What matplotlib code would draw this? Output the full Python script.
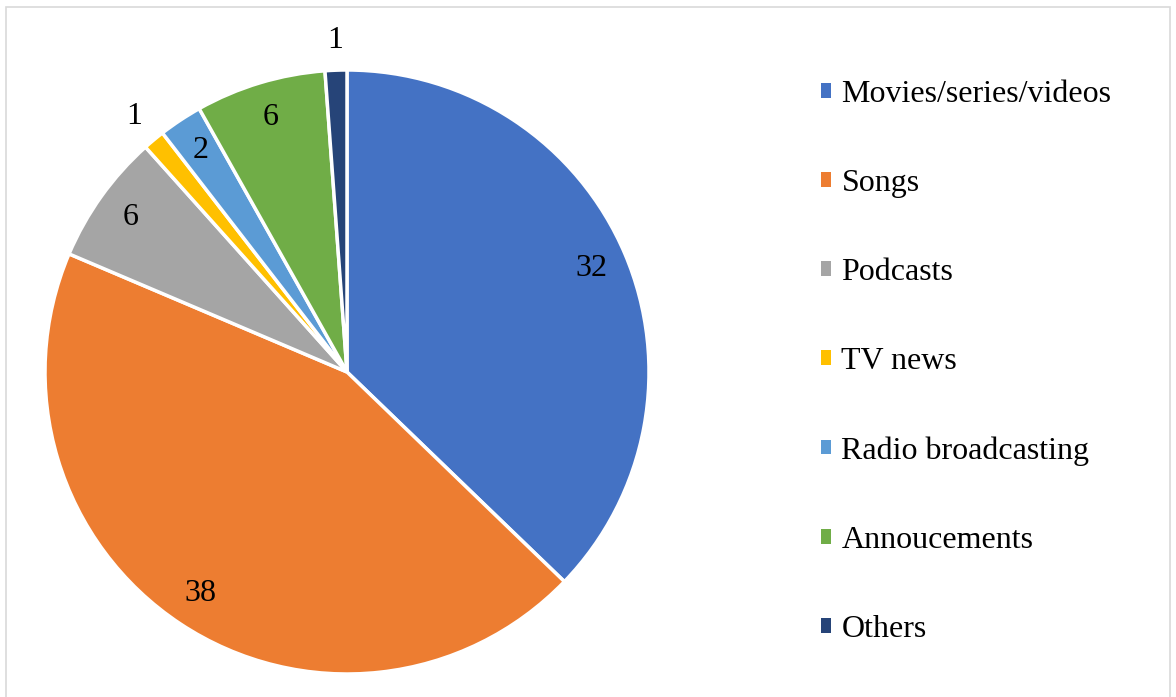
import numpy as np
import matplotlib
matplotlib.use("Agg")
import matplotlib.pyplot as plt
from matplotlib.patches import Rectangle, Patch

categories = ["Movies/series/videos", "Songs", "Podcasts", "TV news",
              "Radio broadcasting", "Annoucements", "Others"]
values = [32, 38, 6, 1, 2, 6, 1]
colors = ["#4472C4", "#ED7D31", "#A5A5A5", "#FFC000", "#5B9BD5", "#70AD47", "#264478"]

plt.rcParams['font.family'] = ['Liberation Serif', 'DejaVu Serif']

W, H = 1176, 697
fig = plt.figure(figsize=(W / 100, H / 100), dpi=100)

# frame
fig.patches.append(Rectangle((6 / W, -0.01), (1170 - 6) / W, (697 - 7) / H + 0.01,
                             transform=fig.transFigure, fill=False,
                             edgecolor="#D9D9D9", linewidth=1.2))

cx, cy, r = 347, 372, 302
ax = fig.add_axes([(cx - r) / W, (H - cy - r) / H, 2 * r / W, 2 * r / H])
wedges, _ = ax.pie(values, colors=colors, startangle=90, counterclock=False,
                   wedgeprops=dict(edgecolor="white", linewidth=2.5), radius=1.0)
ax.set_xlim(-1, 1)
ax.set_ylim(-1, 1)
ax.set_aspect("equal")
ax.axis("off")

total = sum(values)
start = 90.0
for v in values:
    ang = start - 360.0 * v / total / 2
    start -= 360.0 * v / total
    rr = 1.1 if v == 1 else 0.88
    x, y = rr * np.cos(np.radians(ang)), rr * np.sin(np.radians(ang))
    ax.text(x, y, str(v), ha="center", va="center", fontsize=23, color="black",
            clip_on=False)

handles = [Patch(facecolor=c, edgecolor="none") for c in colors]
leg = fig.legend(handles, categories, loc="upper left", bbox_to_anchor=(821 / W, 1 - 80 / H),
                 frameon=False, fontsize=23, handlelength=0.32, handleheight=0.32,
                 handletextpad=0.32, labelspacing=1.88, borderaxespad=0, borderpad=0)

fig.savefig("out.png", dpi=100)
